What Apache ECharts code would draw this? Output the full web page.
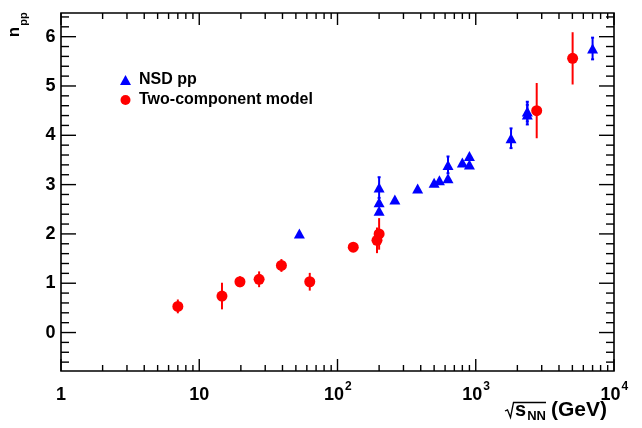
<!DOCTYPE html>
<html><head><meta charset="utf-8">
<script src="https://cdn.jsdelivr.net/npm/echarts@6/dist/echarts.min.js"></script>
<style>html,body{margin:0;padding:0;background:#fff}#c{width:642px;height:428px}</style>
</head><body><div id="c"></div>
<script>
// ---- data ----
const nsdX   = [53, 200, 200, 200, 260, 380, 500, 546, 630, 630, 800, 900, 900, 1800, 2360, 2360, 7000];
const nsdY   = [2.01, 2.94, 2.64, 2.47, 2.70, 2.92, 3.04, 3.09, 3.13, 3.40, 3.45, 3.58, 3.41, 3.94, 4.42, 4.48, 5.76];
const nsdErr = [0, 0.21, 0, 0, 0, 0, 0, 0, 0, 0.17, 0, 0, 0, 0.2, 0.2, 0.2, 0.22];

const modelX   = [7, 14.6, 19.7, 27.1, 39.3, 63, 130, 193, 200, 2760, 5020];
const modelY   = [0.53, 0.74, 1.03, 1.08, 1.36, 1.03, 1.73, 1.87, 2.00, 4.50, 5.56];
const modelErr = [0.14, 0.27, 0.11, 0.16, 0.13, 0.18, 0.03, 0.26, 0.32, 0.56, 0.53];

// ---- axis ticks / labels ----
const xMajorTicks = [1, 10, 100, 1000, 10000];
const xMinorTicks = [2,3,4,5,6,7,8,9, 20,30,40,50,60,70,80,90, 200,300,400,500,600,700,800,900, 2000,3000,4000,5000,6000,7000,8000,9000];
const xLabelBase = ['1', '10', '10', '10', '10'];
const xLabelExp  = ['', '', '2', '3', '4'];
const yMajorTicks = [0, 1, 2, 3, 4, 5, 6];
const yMinorTicks = [-0.6,-0.4,-0.2, 0.2,0.4,0.6,0.8, 1.2,1.4,1.6,1.8, 2.2,2.4,2.6,2.8, 3.2,3.4,3.6,3.8, 4.2,4.4,4.6,4.8, 5.2,5.4,5.6,5.8, 6.2,6.4];
const yLabels = ['0', '1', '2', '3', '4', '5', '6'];

const X_MIN = 1, X_MAX = 10000, Y_MIN = -0.78, Y_MAX = 6.48;
const FONT = '"Liberation Sans", Arial, Helvetica, sans-serif';
const BLUE = '#0000ff', RED = '#ff0000';

function tickSeries(vals, axis, len) {
  return {
    type: 'custom', silent: true, z: 6, clip: false,
    data: vals.map(v => axis === 'x' ? [v, 0] : [10, v]),
    renderItem(params, api) {
      const cs = params.coordSys;
      const st = { stroke: '#000', lineWidth: 1.4 };
      if (axis === 'x') {
        const px = api.coord([api.value(0), 0])[0];
        return { type: 'group', children: [
          { type: 'line', shape: { x1: px, y1: cs.y + cs.height, x2: px, y2: cs.y + cs.height - len }, style: st },
          { type: 'line', shape: { x1: px, y1: cs.y, x2: px, y2: cs.y + len }, style: st }
        ]};
      }
      const py = api.coord([10, api.value(1)])[1];
      return { type: 'group', children: [
        { type: 'line', shape: { x1: cs.x, y1: py, x2: cs.x + len, y2: py }, style: st },
        { type: 'line', shape: { x1: cs.x + cs.width, y1: py, x2: cs.x + cs.width - len, y2: py }, style: st }
      ]};
    }
  };
}

function errSeries(xs, ys, es, color, cap) {
  return {
    type: 'custom', silent: true, z: 3,
    data: xs.map((x, i) => [x, ys[i], es[i]]),
    renderItem(params, api) {
      const x = api.value(0), y = api.value(1), e = api.value(2);
      if (!e) return { type: 'group', children: [] };
      const p1 = api.coord([x, y - e]), p2 = api.coord([x, y + e]);
      const st = { stroke: color, lineWidth: 2 };
      const ch = [{ type: 'line', shape: { x1: p1[0], y1: p1[1], x2: p2[0], y2: p2[1] }, style: st }];
      if (cap) {
        ch.push({ type: 'line', shape: { x1: p1[0] - cap, y1: p1[1], x2: p1[0] + cap, y2: p1[1] }, style: st });
        ch.push({ type: 'line', shape: { x1: p2[0] - cap, y1: p2[1], x2: p2[0] + cap, y2: p2[1] }, style: st });
      }
      return { type: 'group', children: ch };
    }
  };
}

const xLabelSeries = {
  type: 'custom', silent: true, z: 6, clip: false,
  data: xMajorTicks.map(v => [v, 0]),
  renderItem(params, api) {
    const i = params.dataIndex;
    const cs = params.coordSys;
    const px = api.coord([api.value(0), 0])[0];
    const y = cs.y + cs.height + 24;
    const base = { fontFamily: FONT, fontWeight: 'bold', fill: '#000' };
    if (!xLabelExp[i]) {
      return { type: 'text', x: px, y: y, style: Object.assign({ text: xLabelBase[i], fontSize: 18, align: 'center', verticalAlign: 'middle', textAlign: 'center', textVerticalAlign: 'middle' }, base) };
    }
    return { type: 'group', children: [
      { type: 'text', x: px + 6.5, y: y, style: Object.assign({ text: xLabelBase[i], fontSize: 18, align: 'right', verticalAlign: 'middle', textAlign: 'right', textVerticalAlign: 'middle' }, base) },
      { type: 'text', x: px + 7.5, y: y - 8, style: Object.assign({ text: xLabelExp[i], fontSize: 12, align: 'left', verticalAlign: 'middle', textAlign: 'left', textVerticalAlign: 'middle' }, base) }
    ]};
  }
};

const yLabelSeries = {
  type: 'custom', silent: true, z: 6, clip: false,
  data: yMajorTicks.map(v => [10, v]),
  renderItem(params, api) {
    const cs = params.coordSys;
    const py = api.coord([10, api.value(1)])[1];
    return { type: 'text', x: cs.x - 5.5, y: py, style: {
      text: yLabels[params.dataIndex], fontFamily: FONT, fontWeight: 'bold', fontSize: 18, fill: '#000',
      align: 'right', verticalAlign: 'middle', textAlign: 'right', textVerticalAlign: 'middle' } };
  }
};

const chart = echarts.init(document.getElementById('c'), null, { renderer: 'canvas' });
chart.setOption({
  animation: false,
  backgroundColor: '#fff',
  grid: { left: 61, right: 28, top: 13, bottom: 57, show: true, borderColor: '#000', borderWidth: 1.6, backgroundColor: 'transparent' },
  xAxis: { type: 'log', logBase: 10, min: X_MIN, max: X_MAX,
    axisLine: { show: false }, axisTick: { show: false }, axisLabel: { show: false }, splitLine: { show: false } },
  yAxis: { type: 'value', min: Y_MIN, max: Y_MAX,
    axisLine: { show: false }, axisTick: { show: false }, axisLabel: { show: false }, splitLine: { show: false } },
  legend: {
    data: ['NSD pp', 'Two-component model'], orient: 'vertical', left: 115, top: 67,
    itemWidth: 11, itemHeight: 10, itemGap: 4, selectedMode: false,
    textStyle: { fontFamily: FONT, fontWeight: 'bold', fontSize: 16, color: '#000', lineHeight: 14, padding: [0, 0, 0, 3] }
  },
  graphic: [
    { type: 'text', x: 14, y: 32, rotation: Math.PI / 2, style: { text: 'n', fontFamily: FONT, fontWeight: 'bold', fontSize: 17, fill: '#000', align: 'center', verticalAlign: 'middle' } },
    { type: 'text', x: 23.5, y: 19, rotation: Math.PI / 2, style: { text: 'pp', fontFamily: FONT, fontWeight: 'bold', fontSize: 11, fill: '#000', align: 'center', verticalAlign: 'middle' } },
    { type: 'polyline', shape: { points: [[505, 411], [507.5, 409.8], [510.5, 417.5], [513.5, 402.5], [546, 402.5]] }, style: { stroke: '#000', lineWidth: 1.3, fill: null } },
    { type: 'text', x: 526, y: 410.5, style: { text: 's', fontFamily: FONT, fontWeight: 'bold', fontSize: 20, fill: '#000', align: 'right', verticalAlign: 'middle' } },
    { type: 'text', x: 546, y: 416, style: { text: 'NN', fontFamily: FONT, fontWeight: 'bold', fontSize: 13, fill: '#000', align: 'right', verticalAlign: 'middle' } },
    { type: 'text', x: 607, y: 410, style: { text: '(GeV)', fontFamily: FONT, fontWeight: 'bold', fontSize: 21, fill: '#000', align: 'right', verticalAlign: 'middle' } }
  ],
  series: [
    tickSeries(xMajorTicks, 'x', 12),
    tickSeries(xMinorTicks, 'x', 6),
    tickSeries(yMajorTicks, 'y', 15),
    tickSeries(yMinorTicks, 'y', 8),
    xLabelSeries,
    yLabelSeries,
    errSeries(nsdX, nsdY, nsdErr, BLUE, 1.5),
    errSeries(modelX, modelY, modelErr, RED, 0),
    { name: 'NSD pp', type: 'scatter', symbol: 'triangle', symbolSize: [11, 10], z: 4,
      itemStyle: { color: BLUE, opacity: 1 }, data: nsdX.map((x, i) => [x, nsdY[i]]) },
    { name: 'Two-component model', type: 'scatter', symbol: 'circle', symbolSize: 11, z: 4,
      itemStyle: { color: RED, opacity: 1 }, data: modelX.map((x, i) => [x, modelY[i]]) }
  ]
});
</script>
</body></html>
